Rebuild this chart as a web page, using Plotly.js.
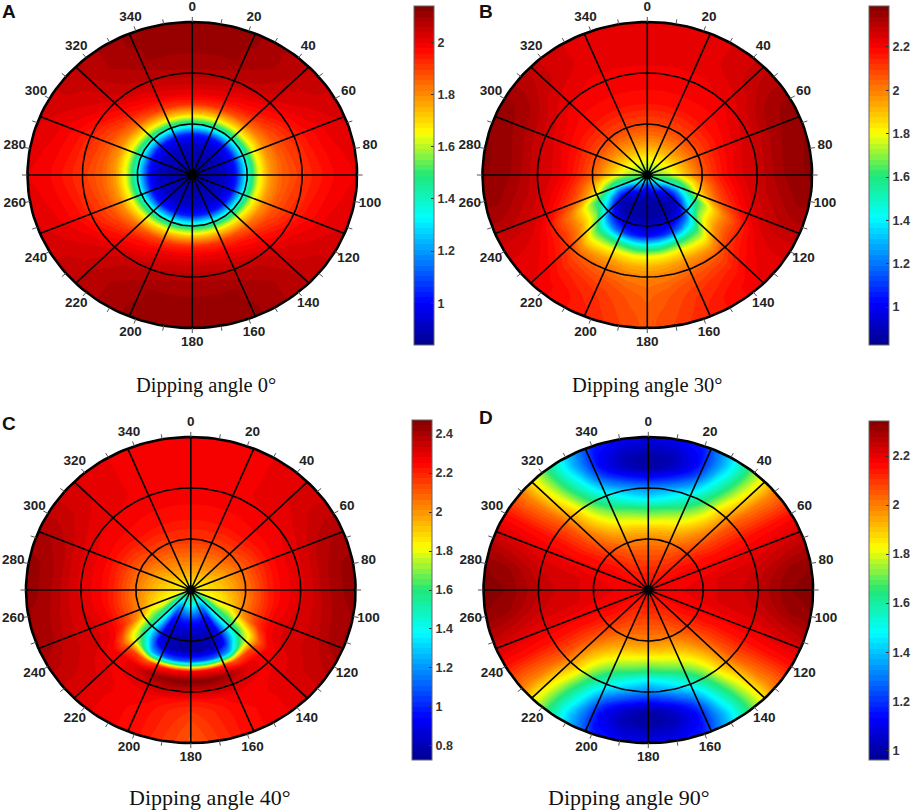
<!DOCTYPE html>
<html>
<head>
<meta charset="utf-8">
<script src="https://cdn.plot.ly/plotly-3.0.1.min.js"></script>
<style>html,body{margin:0;padding:0;background:#fff}</style>
</head>
<body>
<div id="plot" style="width:913px;height:811px"></div>
<script>
// radial positions of each value, every row below is one azimuth
var radii = [0, 6, 12, 18, 24, 30, 36, 42, 48, 54, 60, 66, 72, 78, 84, 90];
var ringRadii = [30, 60];
var spokeAngles = [0, 22.5, 45, 67.5, 90, 112.5, 135, 157.5, 180, 202.5, 225, 247.5, 270, 292.5, 315, 337.5];
var tickAngles = [0, 10, 20, 30, 40, 50, 60, 70, 80, 90, 100, 110, 120, 130, 140, 150, 160, 170, 180, 190, 200, 210, 220, 230, 240, 250, 260, 270, 280, 290, 300, 310, 320, 330, 340, 350];
var labelAngles = [0, 20, 40, 60, 80, 100, 120, 140, 160, 180, 200, 220, 240, 260, 280, 300, 320, 340];

// azimuth 0 to 90, this panel repeats about both axes
var valuesA = [
  [.86, .87, .89, .92, 1.04, 1.43, 1.72, 1.93, 2.00, 2.04, 2.07, 2.09, 2.10, 2.11, 2.11, 2.11],
  [.86, .87, .89, .92, 1.04, 1.43, 1.72, 1.92, 2.00, 2.04, 2.07, 2.09, 2.10, 2.11, 2.11, 2.11],
  [.86, .87, .89, .92, 1.04, 1.42, 1.71, 1.91, 1.99, 2.03, 2.06, 2.08, 2.10, 2.10, 2.11, 2.11],
  [.86, .87, .89, .92, 1.03, 1.41, 1.70, 1.89, 1.97, 2.01, 2.05, 2.07, 2.08, 2.09, 2.09, 2.09],
  [.86, .87, .89, .92, 1.03, 1.40, 1.68, 1.86, 1.95, 1.99, 2.03, 2.05, 2.06, 2.07, 2.07, 2.07],
  [.86, .87, .89, .92, 1.03, 1.39, 1.67, 1.83, 1.91, 1.96, 1.99, 2.02, 2.03, 2.04, 2.05, 2.05],
  [.86, .87, .89, .92, 1.03, 1.38, 1.65, 1.80, 1.88, 1.92, 1.96, 1.99, 2.01, 2.02, 2.03, 2.03],
  [.86, .87, .89, .92, 1.03, 1.37, 1.64, 1.79, 1.86, 1.90, 1.93, 1.96, 1.98, 2.00, 2.01, 2.02],
  [.86, .87, .89, .92, 1.03, 1.36, 1.63, 1.78, 1.85, 1.89, 1.92, 1.95, 1.97, 1.99, 2.00, 2.01],
  [.86, .87, .89, .92, 1.03, 1.36, 1.63, 1.78, 1.85, 1.88, 1.91, 1.94, 1.96, 1.98, 1.99, 2.00]
];

// azimuth 0 to 180
var valuesB = [
  [1.65, 1.75, 1.85, 1.95, 2.03, 2.09, 2.13, 2.17, 2.19, 2.20, 2.21, 2.22, 2.22, 2.22, 2.22, 2.22],
  [1.65, 1.75, 1.85, 1.95, 2.03, 2.09, 2.13, 2.17, 2.19, 2.20, 2.21, 2.22, 2.22, 2.22, 2.22, 2.22],
  [1.65, 1.75, 1.85, 1.95, 2.03, 2.09, 2.13, 2.17, 2.19, 2.20, 2.21, 2.22, 2.23, 2.23, 2.23, 2.23],
  [1.65, 1.75, 1.85, 1.95, 2.03, 2.09, 2.13, 2.17, 2.19, 2.20, 2.21, 2.22, 2.23, 2.24, 2.24, 2.24],
  [1.65, 1.74, 1.84, 1.94, 2.02, 2.09, 2.13, 2.17, 2.19, 2.20, 2.22, 2.23, 2.25, 2.26, 2.26, 2.26],
  [1.65, 1.74, 1.84, 1.94, 2.02, 2.09, 2.13, 2.17, 2.19, 2.21, 2.23, 2.25, 2.27, 2.29, 2.30, 2.30],
  [1.65, 1.73, 1.82, 1.92, 2.01, 2.08, 2.13, 2.17, 2.20, 2.23, 2.25, 2.28, 2.31, 2.33, 2.34, 2.34],
  [1.65, 1.72, 1.80, 1.90, 2.00, 2.08, 2.13, 2.18, 2.21, 2.24, 2.26, 2.29, 2.32, 2.34, 2.36, 2.36],
  [1.65, 1.70, 1.78, 1.88, 1.98, 2.07, 2.13, 2.18, 2.22, 2.25, 2.27, 2.30, 2.33, 2.35, 2.36, 2.37],
  [1.65, 1.68, 1.74, 1.84, 1.95, 2.05, 2.12, 2.18, 2.22, 2.25, 2.27, 2.30, 2.33, 2.35, 2.36, 2.37],
  [1.65, 1.65, 1.62, 1.68, 1.82, 1.96, 2.06, 2.14, 2.19, 2.23, 2.26, 2.29, 2.31, 2.33, 2.35, 2.35],
  [1.65, 1.60, 1.55, 1.50, 1.65, 1.85, 1.98, 2.08, 2.14, 2.19, 2.23, 2.26, 2.28, 2.30, 2.31, 2.31],
  [1.65, 1.50, 1.30, 1.25, 1.42, 1.58, 1.72, 1.88, 2.00, 2.08, 2.16, 2.21, 2.24, 2.25, 2.25, 2.25],
  [1.65, 1.42, 1.12, 1.05, 1.15, 1.40, 1.68, 1.84, 1.97, 2.06, 2.13, 2.17, 2.20, 2.22, 2.23, 2.23],
  [1.65, 1.35, 1.05, .90, .92, 1.08, 1.36, 1.62, 1.80, 1.95, 2.06, 2.11, 2.15, 2.18, 2.20, 2.20],
  [1.65, 1.27, 1.00, .88, .87, .98, 1.20, 1.58, 1.80, 1.95, 2.04, 2.09, 2.13, 2.15, 2.17, 2.17],
  [1.65, 1.20, .95, .86, .86, .95, 1.10, 1.55, 1.82, 1.95, 2.02, 2.07, 2.10, 2.12, 2.13, 2.14],
  [1.65, 1.13, .91, .85, .85, .93, 1.05, 1.50, 1.80, 1.93, 2.00, 2.04, 2.07, 2.08, 2.09, 2.10],
  [1.65, 1.10, .90, .85, .85, .92, 1.03, 1.48, 1.80, 1.92, 1.99, 2.02, 2.04, 2.05, 2.06, 2.06]
];

// azimuth 0 to 180
var valuesC = [
  [1.75, 1.90, 1.98, 2.05, 2.11, 2.17, 2.20, 2.23, 2.25, 2.26, 2.27, 2.28, 2.28, 2.28, 2.28, 2.28],
  [1.75, 1.90, 1.98, 2.05, 2.11, 2.17, 2.20, 2.23, 2.25, 2.26, 2.27, 2.28, 2.28, 2.28, 2.28, 2.28],
  [1.75, 1.90, 1.98, 2.04, 2.10, 2.16, 2.20, 2.23, 2.25, 2.26, 2.27, 2.28, 2.28, 2.28, 2.28, 2.28],
  [1.75, 1.89, 1.97, 2.03, 2.09, 2.15, 2.19, 2.23, 2.25, 2.26, 2.27, 2.28, 2.28, 2.28, 2.28, 2.28],
  [1.75, 1.88, 1.96, 2.02, 2.08, 2.14, 2.19, 2.23, 2.25, 2.27, 2.28, 2.29, 2.29, 2.30, 2.30, 2.30],
  [1.75, 1.87, 1.94, 2.00, 2.06, 2.12, 2.17, 2.22, 2.25, 2.27, 2.28, 2.30, 2.31, 2.32, 2.32, 2.32],
  [1.75, 1.86, 1.92, 1.97, 2.03, 2.10, 2.15, 2.21, 2.25, 2.27, 2.29, 2.31, 2.33, 2.35, 2.36, 2.36],
  [1.75, 1.85, 1.90, 1.95, 2.01, 2.07, 2.14, 2.20, 2.25, 2.28, 2.30, 2.32, 2.36, 2.38, 2.40, 2.40],
  [1.75, 1.85, 1.89, 1.93, 1.99, 2.06, 2.13, 2.20, 2.25, 2.28, 2.30, 2.33, 2.37, 2.40, 2.42, 2.43],
  [1.75, 1.85, 1.88, 1.92, 1.98, 2.05, 2.12, 2.20, 2.25, 2.28, 2.30, 2.33, 2.37, 2.40, 2.42, 2.43],
  [1.75, 1.82, 1.84, 1.88, 1.95, 2.03, 2.11, 2.19, 2.25, 2.28, 2.31, 2.33, 2.36, 2.39, 2.41, 2.42],
  [1.72, 1.80, 1.82, 1.86, 1.92, 2.02, 2.11, 2.19, 2.26, 2.30, 2.32, 2.33, 2.35, 2.38, 2.41, 2.42],
  [1.72, 1.65, 1.72, 1.80, 1.78, 1.92, 2.05, 2.17, 2.26, 2.30, 2.32, 2.33, 2.34, 2.35, 2.37, 2.38],
  [1.74, 1.50, 1.50, 1.55, 1.60, 1.65, 1.72, 1.85, 2.10, 2.25, 2.28, 2.30, 2.32, 2.33, 2.33, 2.33],
  [1.74, 1.45, 1.30, 1.35, 1.32, 1.30, 1.38, 1.65, 2.15, 2.28, 2.28, 2.28, 2.29, 2.29, 2.29, 2.29],
  [1.74, 1.45, 1.15, .98, .92, .90, .95, 1.25, 2.10, 2.34, 2.30, 2.27, 2.27, 2.26, 2.26, 2.26],
  [1.75, 1.50, 1.20, .98, .85, .80, .80, 1.12, 2.20, 2.43, 2.34, 2.27, 2.25, 2.24, 2.24, 2.24],
  [1.75, 1.52, 1.25, 1.00, .85, .78, .78, 1.10, 2.24, 2.46, 2.34, 2.24, 2.20, 2.19, 2.18, 2.17],
  [1.75, 1.55, 1.28, 1.00, .85, .78, .78, 1.10, 2.25, 2.46, 2.33, 2.22, 2.17, 2.14, 2.12, 2.11]
];

// azimuth 0 to 90, this panel repeats about both axes
var valuesD = [
  [2.17, 2.15, 2.12, 2.08, 2.04, 1.99, 1.90, 1.78, 1.65, 1.45, 1.32, 1.14, .99, .98, 1.04, 1.10],
  [2.17, 2.15, 2.12, 2.08, 2.04, 1.99, 1.91, 1.80, 1.68, 1.50, 1.37, 1.20, 1.05, 1.02, 1.06, 1.12],
  [2.17, 2.15, 2.12, 2.09, 2.05, 2.00, 1.93, 1.83, 1.73, 1.60, 1.48, 1.33, 1.20, 1.13, 1.14, 1.17],
  [2.17, 2.15, 2.13, 2.10, 2.07, 2.03, 1.97, 1.90, 1.82, 1.74, 1.65, 1.57, 1.50, 1.44, 1.40, 1.42],
  [2.17, 2.16, 2.14, 2.12, 2.10, 2.07, 2.03, 1.99, 1.94, 1.90, 1.87, 1.82, 1.77, 1.74, 1.72, 1.72],
  [2.18, 2.17, 2.16, 2.15, 2.14, 2.12, 2.10, 2.08, 2.07, 2.06, 2.05, 2.03, 2.01, 2.00, 1.99, 2.00],
  [2.18, 2.18, 2.17, 2.17, 2.17, 2.16, 2.16, 2.15, 2.15, 2.15, 2.15, 2.15, 2.15, 2.15, 2.15, 2.15],
  [2.18, 2.18, 2.18, 2.18, 2.18, 2.18, 2.18, 2.19, 2.19, 2.20, 2.20, 2.21, 2.22, 2.23, 2.24, 2.25],
  [2.18, 2.18, 2.18, 2.19, 2.19, 2.20, 2.21, 2.22, 2.23, 2.23, 2.24, 2.26, 2.28, 2.30, 2.31, 2.32],
  [2.18, 2.18, 2.19, 2.19, 2.20, 2.20, 2.21, 2.22, 2.23, 2.24, 2.26, 2.28, 2.30, 2.32, 2.33, 2.33]
];

var rangeA = [0.84, 2.14];
var rangeB = [0.825, 2.389];
var rangeC = [0.728, 2.472];
var rangeD = [0.96, 2.343];

var captions = ['Dipping angle 0°', 'Dipping angle 30°', 'Dipping angle 40°', 'Dipping angle 90°'];
var panelLetters = ['A', 'B', 'C', 'D'];

var jet = [
  [0, '#00008f'], [0.125, '#0000ff'], [0.375, '#00ffff'], [0.5, '#20e878'],
  [0.625, '#ffff00'], [0.875, '#ff0000'], [1, '#800000']
];

var W = 913, H = 811;
var fontBold = 'Liberation Sans';
var axisMax = 100; // room outside the r=90 edge for the angle labels

// flip the rows about the last one, so 0..180 becomes 0..360
function mirror(rows) {
  return rows.concat(rows.slice(0, -1).reverse());
}

function rad(a) { return a * Math.PI / 180; }

var azimuths = [];
for (var i = 0; i < 37; i++) azimuths.push(i * 10);

var traces = [];
var layout = {
  width: W,
  height: H,
  margin: {l: 0, r: 0, t: 0, b: 0},
  paper_bgcolor: '#fff',
  plot_bgcolor: 'rgba(0,0,0,0)',
  showlegend: false,
  hovermode: false,
  annotations: []
};

function addPanel(n, z, range, box, bar, cap, letter) {
  var xa = 'x' + (n === 1 ? '' : n), ya = 'y' + (n === 1 ? '' : n);
  var hide = {visible: false, range: [-axisMax, axisMax], fixedrange: true, showgrid: false, zeroline: false};
  var dx = box.rx * axisMax / 90, dy = box.ry * axisMax / 90;
  layout['xaxis' + (n === 1 ? '' : n)] = Object.assign({}, hide, {
    domain: [(box.cx - dx) / W, (box.cx + dx) / W], anchor: ya
  });
  layout['yaxis' + (n === 1 ? '' : n)] = Object.assign({}, hide, {
    domain: [1 - (box.cy + dy) / H, 1 - (box.cy - dy) / H], anchor: xa
  });

  var X = azimuths.map(function (az) {
    return radii.map(function (r) { return r * Math.sin(rad(az)); });
  });
  var Y = azimuths.map(function (az) {
    return radii.map(function (r) { return r * Math.cos(rad(az)); });
  });
  var noAxis = {
    showgrid: false, startline: false, endline: false, showline: false,
    showticklabels: 'none', minorgridcount: 0, smoothing: 0, title: {text: ''}
  };
  var id = 'polar' + n;
  traces.push({
    type: 'carpet', carpet: id, a: radii, b: azimuths, x: X, y: Y,
    aaxis: noAxis, baxis: noAxis, xaxis: xa, yaxis: ya
  });
  traces.push({
    type: 'contourcarpet', carpet: id, a: radii, b: azimuths, z: z,
    xaxis: xa, yaxis: ya,
    zmin: range[0], zmax: range[1], colorscale: jet,
    autocontour: false,
    contours: {start: range[0], end: range[1], size: (range[1] - range[0]) / 64, coloring: 'fill', showlines: false},
    line: {width: 0},
    colorbar: {
      x: bar.x / W, xanchor: 'left', xpad: 0,
      y: 1 - bar.top / H, yanchor: 'top', ypad: 0,
      len: (bar.bottom - bar.top) / H, lenmode: 'fraction',
      thickness: 20, thicknessmode: 'pixels',
      outlinecolor: '#666', outlinewidth: 1, borderwidth: 0,
      tick0: 0, dtick: 0.2, ticks: 'inside', ticklen: 3, tickcolor: '#333', tickwidth: 1,
      tickfont: {family: fontBold, size: 12.5, color: '#333', weight: 'bold'}
    }
  });

  // rings and spokes, drawn over the filled contours
  var gx = [], gy = [];
  ringRadii.forEach(function (r) {
    for (var a = 0; a <= 360; a += 2) {
      gx.push(r * Math.sin(rad(a)));
      gy.push(r * Math.cos(rad(a)));
    }
    gx.push(null); gy.push(null);
  });
  spokeAngles.forEach(function (a) {
    gx.push(0, 90 * Math.sin(rad(a)), null);
    gy.push(0, 90 * Math.cos(rad(a)), null);
  });
  traces.push({
    type: 'scatter', mode: 'lines', x: gx, y: gy, xaxis: xa, yaxis: ya, cliponaxis: false,
    line: {color: '#000', width: 1.6}
  });

  var ox = [], oy = [];
  for (var a = 0; a <= 360; a += 2) {
    ox.push(90 * Math.sin(rad(a)));
    oy.push(90 * Math.cos(rad(a)));
  }
  traces.push({
    type: 'scatter', mode: 'lines', x: ox, y: oy, xaxis: xa, yaxis: ya, cliponaxis: false,
    line: {color: '#000', width: 2.6}
  });

  var tx = [], ty = [];
  tickAngles.forEach(function (a) {
    tx.push(90 * Math.sin(rad(a)), 93 * Math.sin(rad(a)), null);
    ty.push(90 * Math.cos(rad(a)), 93 * Math.cos(rad(a)), null);
  });
  traces.push({
    type: 'scatter', mode: 'lines', x: tx, y: ty, xaxis: xa, yaxis: ya, cliponaxis: false,
    line: {color: '#555', width: 1}
  });

  traces.push({
    type: 'scatter', mode: 'text', xaxis: xa, yaxis: ya, cliponaxis: false,
    x: labelAngles.map(function (a) { return 98.5 * Math.sin(rad(a)); }),
    y: labelAngles.map(function (a) { return 98.5 * Math.cos(rad(a)); }),
    text: labelAngles.map(String),
    textposition: 'middle center',
    textfont: {family: fontBold, size: 13.5, color: '#222', weight: 'bold'}
  });

  traces.push({
    type: 'scatter', mode: 'markers', x: [0], y: [0], xaxis: xa, yaxis: ya,
    marker: {color: '#000', size: 9}
  });

  layout.annotations.push({
    xref: 'paper', yref: 'paper', x: cap.x / W, y: 1 - cap.y / H, showarrow: false,
    xanchor: 'center', yanchor: 'middle', text: captions[n - 1],
    font: {family: 'Liberation Serif', size: cap.size, color: '#111'}
  });
  layout.annotations.push({
    xref: 'paper', yref: 'paper', x: letter.x / W, y: 1 - letter.y / H, showarrow: false,
    xanchor: 'left', yanchor: 'middle', text: panelLetters[n - 1],
    font: {family: fontBold, size: 19, color: '#111', weight: 'bold'}
  });
}

addPanel(1, mirror(mirror(valuesA)), rangeA,
  {cx: 192.5, cy: 175, rx: 165, ry: 153}, {x: 414, top: 6, bottom: 345},
  {x: 206, y: 385, size: 20.5}, {x: 0, y: 11});
addPanel(2, mirror(valuesB), rangeB,
  {cx: 648, cy: 175, rx: 165, ry: 153}, {x: 869, top: 6, bottom: 345},
  {x: 648, y: 385, size: 20.5}, {x: 478, y: 11});
addPanel(3, mirror(valuesC), rangeC,
  {cx: 191, cy: 590, rx: 165, ry: 153}, {x: 412, top: 420, bottom: 760},
  {x: 210, y: 797, size: 22}, {x: 0, y: 423});
addPanel(4, mirror(mirror(valuesD)), rangeD,
  {cx: 649, cy: 590, rx: 165, ry: 153}, {x: 869, top: 421, bottom: 760},
  {x: 630, y: 797, size: 22}, {x: 478, y: 417});

Plotly.newPlot('plot', traces, layout, {displayModeBar: false, staticPlot: true});
</script>
</body>
</html>
